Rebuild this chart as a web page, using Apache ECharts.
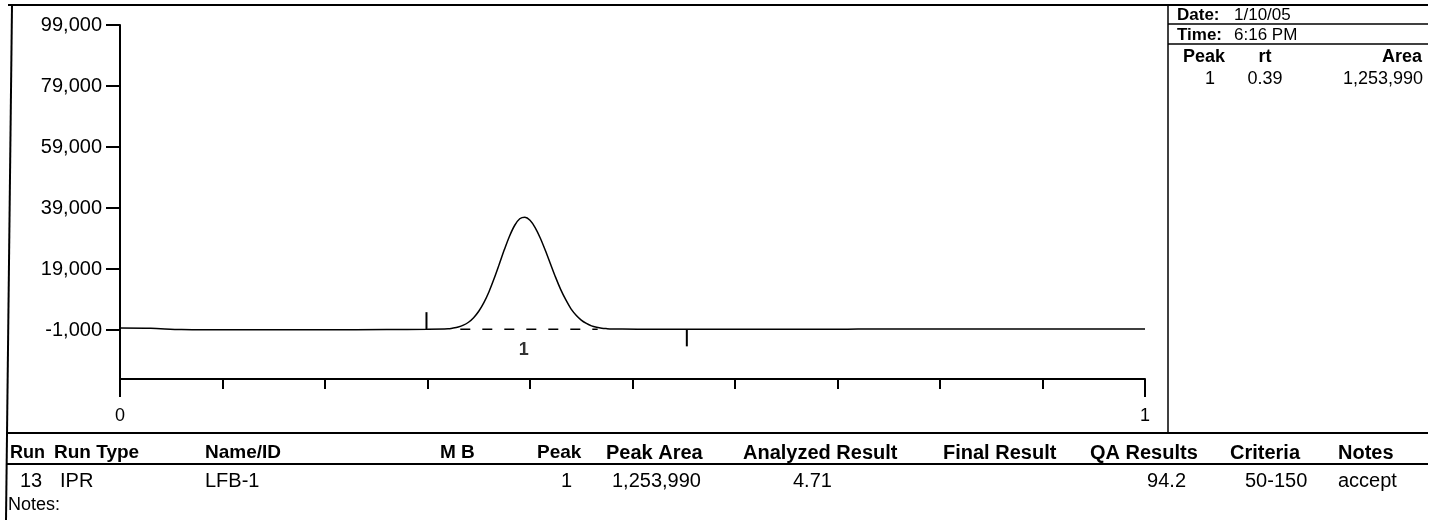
<!DOCTYPE html>
<html>
<head>
<meta charset="utf-8">
<script src="https://cdn.jsdelivr.net/npm/echarts@6/dist/echarts.min.js"></script>
<style>
  html, body { margin: 0; padding: 0; background: #fff; }
  #chart { width: 1430px; height: 520px; }
</style>
</head>
<body>
<div id="chart"></div>
<script>
// ---------------- data ----------------
const sigTime = [0, 0.03, 0.06, 0.12, 0.2, 0.26, 0.3,
  0.32, 0.325, 0.33, 0.335, 0.34, 0.345, 0.35, 0.355, 0.36, 0.365, 0.37, 0.375, 0.38, 0.385, 0.39, 0.395,
  0.40, 0.405, 0.41, 0.415, 0.42, 0.425, 0.43, 0.435, 0.44, 0.445, 0.45, 0.455, 0.46, 0.465, 0.47, 0.475, 0.48,
  0.49, 0.52, 0.6, 0.7, 0.72, 0.8, 0.9, 1.0];
const sigValue = [-300, -400, -800, -900, -900, -800, -700,
  -550, -300, 50, 650, 1600, 3100, 5200, 8000, 11600, 15900, 20600, 25400, 29800, 33300, 35500, 36000,
  35000, 32600, 29200, 25100, 20700, 16300, 12300, 8900, 6000, 3900, 2300, 1200, 400, -50, -350, -500, -600,
  -650, -700, -700, -700, -650, -600, -600, -600];

const dropTime = [0.332, 0.466];      // dashed baseline under peak
const dropValue = [-700, -700];
const startMarkTime = [0.299, 0.299]; // integration start marker
const startMarkValue = [-700, 4900];
const endMarkTime = [0.553, 0.553];   // integration end marker
const endMarkValue = [-700, -6300];
const peakLabelTime = [0.394];
const peakLabelValue = [-700];
const peakLabelText = ['1'];

const yTickValues = [-1000, 19000, 39000, 59000, 79000, 99000];
const yTickLabels = ['-1,000', '19,000', '39,000', '59,000', '79,000', '99,000'];
const xTickValues = [0, 1];
const xTickLabels = ['0', '1'];

const infoLabels = ['Date:', 'Time:'];
const infoValues = ['1/10/05', '6:16 PM'];
const peakHeaders = ['Peak', 'rt', 'Area'];
const peakRow = ['1', '0.39', '1,253,990'];

const tableHeaders = ['Run', 'Run Type', 'Name/ID', 'M B', 'Peak', 'Peak Area', 'Analyzed Result', 'Final Result', 'QA Results', 'Criteria', 'Notes'];
const tableRow = ['13', 'IPR', 'LFB-1', '', '1', '1,253,990', '4.71', '', '94.2', '50-150', 'accept'];
const notesLabel = 'Notes:';

// ---------------- layout (positions / styles) ----------------
const FONT = '"Liberation Sans", Arial, Helvetica, sans-serif';
const headerX = [10, 54, 205, 440, 537, 606, 743, 943, 1090, 1230, 1338];
const headerSize = [18, 19, 19, 19, 19, 20, 20, 20, 20, 20, 20];
const rowX = [[20, 'left'], [60, 'left'], [205, 'left'], [0, 'left'], [572, 'right'], [612, 'left'], [793, 'left'], [0, 'left'], [1186, 'right'], [1245, 'left'], [1338, 'left']];
const peakHeadX = [[1204, 'center'], [1265, 'center'], [1422, 'right']];
const peakRowX = [[1210, 'center'], [1265, 'center'], [1423, 'right']];

function zip(a, b) { return a.map((v, i) => [v, b[i]]); }

const graphics = [];
function line(x1, y1, x2, y2, w) {
  graphics.push({ type: 'line', silent: true, shape: { x1, y1, x2, y2 }, style: { stroke: '#000', lineWidth: w } });
}
function text(t, x, y, size, bold, align) {
  graphics.push({ type: 'text', silent: true, style: {
    text: t, x, y, fill: '#000', font: (bold ? 'bold ' : '') + size + 'px ' + FONT,
    textAlign: align || 'left', textVerticalAlign: 'middle' } });
}

// frame (scan is slightly skewed: left border leans)
line(8, 5, 1428, 5, 2);
line(12, 5, 6, 520, 2);
line(1168, 5, 1168, 433, 1.5);
line(7, 433, 1428, 433, 2);
line(7, 464, 1428, 464, 2);
line(1168, 24, 1428, 24, 1.5);
line(1168, 44, 1428, 44, 1.5);

// right info panel
infoLabels.forEach((t, i) => text(t, 1177, 15 + i * 20, 17, true, 'left'));
infoValues.forEach((t, i) => text(t, 1234, 15 + i * 20, 17, false, 'left'));
peakHeaders.forEach((t, i) => text(t, peakHeadX[i][0], 57, 18, true, peakHeadX[i][1]));
peakRow.forEach((t, i) => text(t, peakRowX[i][0], 79, 18, false, peakRowX[i][1]));

// bottom table
tableHeaders.forEach((t, i) => text(t, headerX[i], 453, headerSize[i], true, 'left'));
tableRow.forEach((t, i) => { if (t) text(t, rowX[i][0], 481, 20, false, rowX[i][1]); });
text(notesLabel, 8, 505, 18, false, 'left');

const axisBlack = { color: '#000', width: 2 };

const option = {
  animation: false,
  backgroundColor: '#fff',
  grid: { left: 120, top: 25, width: 1025, height: 354, containLabel: false },
  xAxis: [
    {
      type: 'value', min: 0, max: 1, interval: 0.1, position: 'bottom',
      axisLine: { show: true, onZero: false, lineStyle: axisBlack },
      axisTick: { show: true, length: 10, lineStyle: axisBlack },
      axisLabel: { show: false },
      splitLine: { show: false }
    },
    {
      type: 'value', min: 0, max: 1, position: 'bottom',
      axisLine: { show: false, onZero: false },
      axisTick: { show: true, length: 18, customValues: xTickValues, lineStyle: axisBlack },
      axisLabel: { show: true, customValues: xTickValues, margin: 28, color: '#000', fontSize: 18, fontFamily: FONT,
        formatter: v => xTickLabels[xTickValues.indexOf(v)] },
      splitLine: { show: false }
    }
  ],
  yAxis: {
    type: 'value', min: -17000, max: 99000,
    axisLine: { show: true, onZero: false, lineStyle: axisBlack },
    axisTick: { show: true, length: 14, customValues: yTickValues, lineStyle: axisBlack },
    axisLabel: { show: true, customValues: yTickValues, margin: 18, color: '#000', fontSize: 20, fontFamily: FONT,
      formatter: v => yTickLabels[yTickValues.indexOf(v)] },
    splitLine: { show: false }
  },
  series: [
    { type: 'line', xAxisIndex: 0, data: zip(sigTime, sigValue), symbol: 'none', smooth: 0.3,
      lineStyle: { color: '#000', width: 1.5 } },
    { type: 'line', xAxisIndex: 0, data: zip(dropTime, dropValue), symbol: 'none',
      lineStyle: { color: '#000', width: 1.5, type: [10, 12] } },
    { type: 'line', xAxisIndex: 0, data: zip(startMarkTime, startMarkValue), symbol: 'none',
      lineStyle: { color: '#000', width: 2 } },
    { type: 'line', xAxisIndex: 0, data: zip(endMarkTime, endMarkValue), symbol: 'none',
      lineStyle: { color: '#000', width: 2 } },
    { type: 'scatter', xAxisIndex: 0, data: zip(peakLabelTime, peakLabelValue), symbolSize: 0,
      label: { show: true, position: 'bottom', distance: 12, color: '#000', fontSize: 18, fontWeight: 'bold', fontFamily: FONT,
        formatter: p => peakLabelText[p.dataIndex] } }
  ],
  graphic: { elements: graphics }
};

const chart = echarts.init(document.getElementById('chart'), null, { renderer: 'canvas' });
chart.setOption(option);
</script>
</body>
</html>
